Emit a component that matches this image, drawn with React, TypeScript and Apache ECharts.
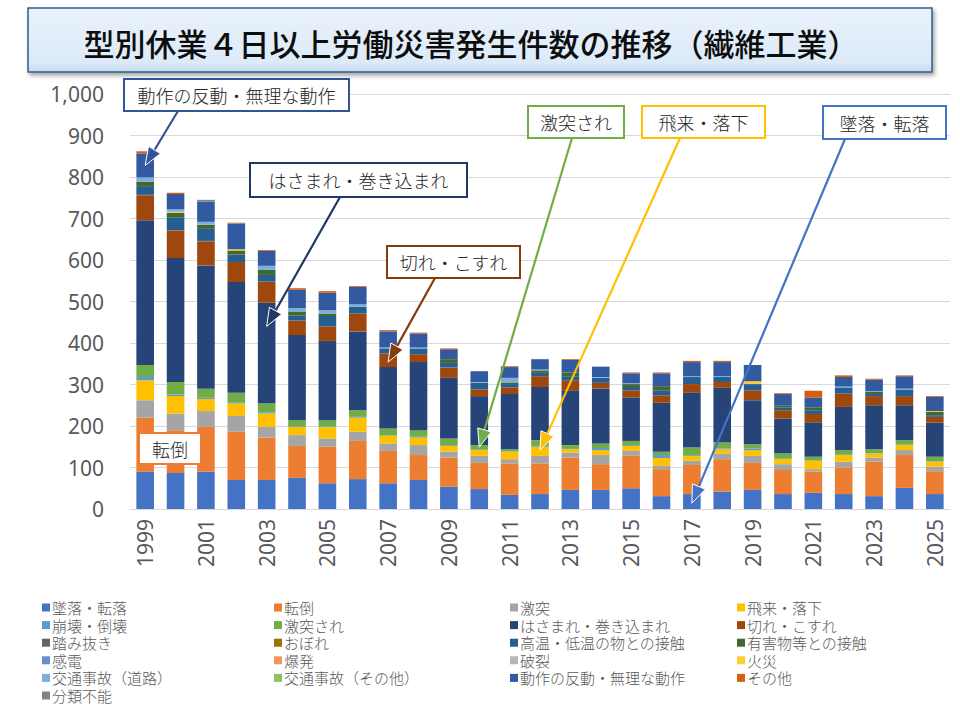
import { useEffect, useRef } from "react";
import * as echarts from "echarts";

const years = [
  "1999", "2000", "2001", "2002", "2003", "2004", "2005", "2006", "2007",
  "2008", "2009", "2010", "2011", "2012", "2013", "2014", "2015", "2016",
  "2017", "2018", "2019", "2020", "2021", "2022", "2023", "2024", "2025",
];

const fall = [90, 87, 90, 70, 70, 75, 62, 72, 62, 70, 54, 48, 34, 36, 46, 46, 50, 31, 36, 42, 46, 36, 39, 36, 31, 51, 36];
const trip = [130, 103, 108, 116, 102, 77, 88, 92, 78, 60, 70, 63, 76, 74, 78, 62, 78, 65, 70, 78, 65, 58, 51, 64, 83, 79, 55];
const bump = [42, 40, 38, 38, 26, 26, 20, 22, 18, 24, 14, 17, 10, 18, 12, 22, 12, 8, 10, 14, 17, 14, 6, 14, 10, 12, 11];
const flying = [48, 42, 29, 30, 32, 20, 27, 34, 18, 18, 14, 14, 18, 22, 8, 12, 12, 19, 12, 10, 14, 12, 20, 16, 10, 12, 12];
const collapse = [8, 4, 3, 2, 3, 2, 2, 2, 1, 2, 2, 1, 1, 2, 1, 5, 2, 7, 2, 2, 4, 1, 1, 2, 1, 1, 1];
const struck = [29, 30, 22, 24, 21, 14, 15, 16, 17, 16, 16, 11, 5, 14, 9, 11, 10, 8, 18, 14, 10, 13, 9, 10, 9, 11, 11];
const caught = [349, 299, 297, 267, 243, 205, 191, 190, 148, 164, 146, 118, 133, 128, 132, 132, 105, 118, 132, 132, 106, 84, 83, 104, 106, 84, 82];
const cut = [60, 66, 58, 48, 50, 34, 35, 43, 33, 19, 24, 16, 16, 26, 23, 14, 17, 18, 21, 14, 24, 20, 20, 32, 22, 22, 14];
const stepThrough = [1, 1, 1, 0, 1, 1, 0, 0, 0, 0, 1, 0, 0, 0, 0, 0, 0, 0, 0, 0, 0, 0, 0, 0, 0, 0, 0];
const drowning = [0, 0, 0, 0, 0, 0, 0, 0, 0, 0, 0, 0, 0, 0, 0, 0, 0, 0, 0, 0, 0, 0, 0, 0, 0, 0, 0];
const hotCold = [21, 31, 29, 18, 16, 12, 25, 16, 12, 14, 11, 16, 8, 8, 11, 12, 8, 12, 17, 12, 15, 7, 9, 15, 5, 16, 4];
const harmful = [11, 11, 10, 10, 12, 10, 6, 0, 0, 0, 9, 0, 4, 6, 9, 0, 7, 10, 0, 0, 0, 5, 7, 0, 5, 0, 8];
const electric = [0, 0, 0, 0, 0, 0, 0, 0, 0, 0, 0, 0, 0, 0, 0, 0, 0, 0, 0, 0, 0, 0, 0, 0, 0, 0, 0];
const explosion = [0, 0, 0, 0, 0, 0, 0, 0, 0, 0, 0, 0, 0, 0, 0, 0, 0, 0, 0, 0, 0, 0, 0, 0, 0, 0, 0];
const rupture = [0, 0, 0, 0, 0, 0, 0, 0, 0, 0, 0, 0, 0, 0, 0, 0, 0, 0, 0, 0, 0, 0, 0, 0, 0, 0, 0];
const fire = [0, 2, 0, 3, 0, 0, 0, 0, 0, 0, 0, 0, 0, 0, 0, 0, 0, 0, 0, 0, 7, 0, 0, 0, 0, 0, 2];
const roadTraffic = [10, 6, 7, 0, 10, 8, 8, 6, 2, 2, 0, 2, 11, 2, 0, 2, 2, 0, 2, 2, 0, 0, 0, 2, 2, 2, 0];
const otherTraffic = [0, 0, 0, 0, 0, 0, 0, 0, 0, 0, 0, 0, 0, 0, 0, 0, 0, 0, 0, 0, 0, 0, 0, 0, 0, 0, 0];
const overexertion = [58, 37, 49, 62, 36, 44, 42, 42, 39, 34, 24, 26, 26, 25, 30, 25, 24, 31, 34, 34, 39, 27, 23, 23, 28, 30, 34];
const others = [5, 3, 0, 2, 2, 4, 4, 2, 3, 2, 2, 0, 2, 0, 2, 0, 2, 2, 3, 3, 0, 2, 17, 4, 2, 2, 2];
const unclassified = [0, 0, 4, 0, 0, 0, 0, 0, 0, 0, 0, 0, 0, 0, 0, 0, 0, 0, 0, 0, 0, 0, 0, 0, 0, 0, 0];

const seriesNames = [
  "墜落・転落", "転倒", "激突", "飛来・落下",
  "崩壊・倒壊", "激突され", "はさまれ・巻き込まれ", "切れ・こすれ",
  "踏み抜き", "おぼれ", "高温・低温の物との接触", "有害物等との接触",
  "感電", "爆発", "破裂", "火災",
  "交通事故（道路）", "交通事故（その他）", "動作の反動・無理な動作", "その他",
  "分類不能",
];
const seriesValues = [
  fall, trip, bump, flying, collapse, struck, caught, cut, stepThrough, drowning,
  hotCold, harmful, electric, explosion, rupture, fire, roadTraffic, otherTraffic,
  overexertion, others, unclassified,
];
const seriesColors = [
  "#4472C4", "#ED7D31", "#A5A5A5", "#FFC000",
  "#5B9BD5", "#70AD47", "#264478", "#9E480E",
  "#636363", "#997300", "#255E91", "#43682B",
  "#698ED0", "#F1975A", "#B7B7B7", "#FFCD33",
  "#7CAFDD", "#8CC168", "#335AA1", "#D26012",
  "#848484",
];

const JP = "'Noto Sans CJK JP', 'Noto Sans', sans-serif";

// callouts: label, box [x, y, w, h], border colour, arrow start, arrow tip [category index, value]
const callouts: {
  text: string;
  box: number[];
  color: string;
  from?: number[];
  tip?: number[];
}[] = [
  { text: "動作の反動・無理な動作", box: [124, 79, 225, 32], color: "#2F5597", from: [178, 111], tip: [0, 828] },
  { text: "はさまれ・巻き込まれ", box: [250, 163, 217, 34], color: "#203864", from: [340, 197], tip: [4, 440] },
  { text: "転倒", box: [139, 433, 62, 31], color: "#ED7D31" },
  { text: "切れ・こすれ", box: [387, 246, 133, 32], color: "#843C0C", from: [435, 278], tip: [8, 354] },
  { text: "激突され", box: [528, 106, 96, 32], color: "#70AD47", from: [572, 138], tip: [11, 149] },
  { text: "飛来・落下", box: [642, 106, 123, 32], color: "#FFC000", from: [680, 138], tip: [13, 142] },
  { text: "墜落・転落", box: [823, 106, 123, 33], color: "#4472C4", from: [845, 139], tip: [18, 14] },
];

function arrow(x1: number, y1: number, x2: number, y2: number, color: string) {
  const dx = x2 - x1;
  const dy = y2 - y1;
  const len = Math.hypot(dx, dy);
  const ux = dx / len;
  const uy = dy / len;
  const hl = 18;
  const hw = 7;
  const bx = x2 - ux * hl;
  const by = y2 - uy * hl;
  const px = -uy;
  const py = ux;
  return [
    {
      type: "line",
      z: 100,
      shape: { x1, y1, x2: bx, y2: by },
      style: { stroke: color, lineWidth: 2.2 },
    },
    {
      type: "polygon",
      z: 101,
      shape: {
        points: [
          [x2, y2],
          [bx + px * hw, by + py * hw],
          [bx - px * hw, by - py * hw],
        ],
      },
      style: { fill: color, stroke: "#ffffff", lineWidth: 1 },
    },
  ];
}

const App = () => {
  const chartRef = useRef<HTMLDivElement>(null);

  useEffect(() => {
    document.body.style.margin = "0";
    if (!chartRef.current) return;
    const chart = echarts.init(chartRef.current, null, { renderer: "svg" });

    const legendColumns = [0, 1, 2, 3].map((col) => ({
      orient: "vertical",
      left: [37, 269, 505, 732][col],
      top: 595,
      itemWidth: 8,
      itemHeight: 8,
      itemGap: 2.6,
      icon: "rect",
      selectedMode: false,
      textStyle: {
        color: "#595959",
        fontSize: 15,
        lineHeight: 15,
        fontFamily: JP,
        fontWeight: 300,
        padding: [0, 0, 0, -3],
      },
      data: seriesNames.filter((_, i) => i % 4 === col),
    }));

    chart.setOption({
      animation: false,
      color: seriesColors,
      grid: { left: 130, right: 10, top: 94, bottom: 211 },
      legend: legendColumns,
      xAxis: {
        type: "category",
        data: years,
        axisTick: { show: false },
        axisLine: { lineStyle: { color: "#D9D9D9" } },
        axisLabel: {
          interval: 1,
          rotate: 90,
          color: "#595959",
          fontSize: 21,
          fontFamily: "'Noto Sans', sans-serif",
          margin: 10,
        },
      },
      yAxis: {
        type: "value",
        min: 0,
        max: 1000,
        interval: 100,
        axisLine: { show: false },
        axisTick: { show: false },
        splitLine: { lineStyle: { color: "#D9D9D9" } },
        axisLabel: {
          color: "#595959",
          fontSize: 21,
          fontFamily: "'Noto Sans', sans-serif",
          margin: 26,
          formatter: (v: number) => v.toLocaleString("en-US"),
        },
      },
      series: seriesNames.map((name, i) => ({
        name,
        type: "bar",
        stack: "total",
        barWidth: "58%",
        data: seriesValues[i],
        itemStyle: { color: seriesColors[i] },
      })),
    });

    const graphic: any[] = [
      {
        type: "rect",
        z: 100,
        shape: { x: 28, y: 8, width: 904, height: 64 },
        style: {
          fill: {
            type: "linear",
            x: 0,
            y: 0,
            x2: 0,
            y2: 1,
            colorStops: [
              { offset: 0, color: "#EAF2FB" },
              { offset: 0.85, color: "#DCEAF8" },
              { offset: 1, color: "#C5D8EC" },
            ],
          },
          stroke: "#2E5E8A",
          lineWidth: 1.5,
          shadowBlur: 4,
          shadowOffsetX: 2,
          shadowOffsetY: 3,
          shadowColor: "rgba(0,0,0,0.35)",
        },
      },
      {
        type: "text",
        z: 101,
        style: {
          text: "型別休業４日以上労働災害発生件数の推移（繊維工業）",
          x: 471,
          y: 42,
          textAlign: "center",
          textVerticalAlign: "middle",
          fontSize: 31,
          fontWeight: 500,
          fontFamily: JP,
          fill: "#0D0D0D",
        },
      },
    ];

    callouts.forEach((c) => {
      const [x, y, w, h] = c.box;
      graphic.push({
        type: "rect",
        z: 102,
        shape: { x, y, width: w, height: h },
        style: { fill: "#ffffff", stroke: c.color, lineWidth: 2 },
      });
      graphic.push({
        type: "text",
        z: 103,
        style: {
          text: c.text,
          x: x + w / 2,
          y: y + h / 2,
          textAlign: "center",
          textVerticalAlign: "middle",
          fontSize: 18,
          fontWeight: 300,
          fontFamily: JP,
          fill: "#262626",
        },
      });
      if (c.from && c.tip) {
        const p = chart.convertToPixel({ gridIndex: 0 }, c.tip) as number[];
        graphic.push(...arrow(c.from[0], c.from[1], p[0], p[1], c.color));
      }
    });

    chart.setOption({ graphic });

    return () => {
      chart.dispose();
    };
  }, []);

  return <div ref={chartRef} style={{ width: "960px", height: "720px" }} />;
};

export default App;
